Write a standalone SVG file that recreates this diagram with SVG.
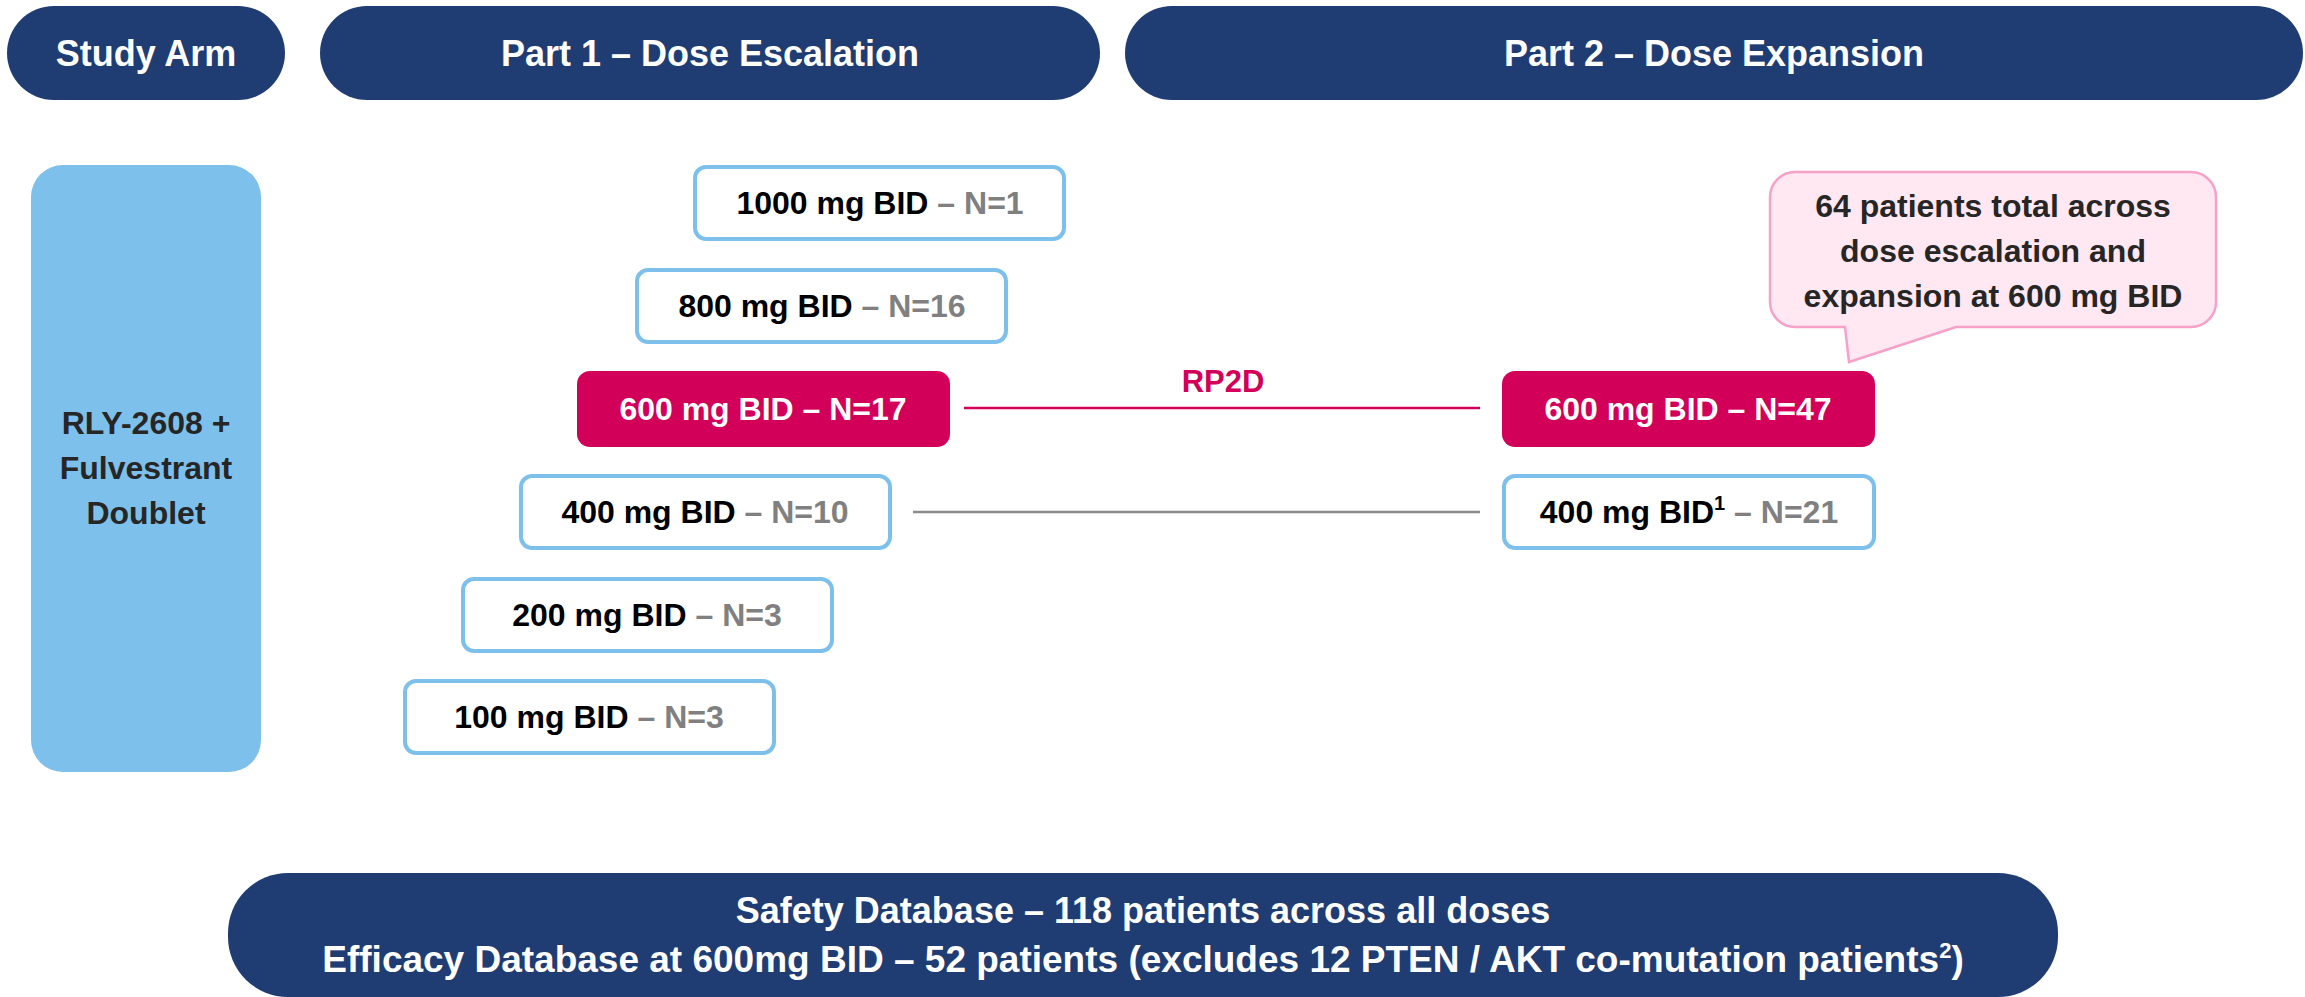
<svg xmlns="http://www.w3.org/2000/svg" width="2305" height="997" viewBox="0 0 2305 997">
<style>
text{font-family:"Liberation Sans",Arial,sans-serif;font-weight:bold;text-anchor:middle}
.hdr{fill:#1F3C73}
.ht{fill:#fff;font-size:36px}
.ht2{fill:#fff;font-size:37px}
.box{fill:#fff;stroke:#7DC0EB;stroke-width:4}
.hot{fill:#D20059}
.bt{font-size:32px;fill:#000}
.g{fill:#808080}
.w{fill:#fff}
.ct{font-size:32px;fill:#262626}
</style>
<rect width="2305" height="997" fill="#fff"/>
<g id="hdr-study-arm"><rect class="hdr" x="7" y="6" width="278" height="94" rx="47"/><text class="ht" x="146" y="66">Study Arm</text></g>
<g id="hdr-part1"><rect class="hdr" x="320" y="6" width="780" height="94" rx="47"/><text class="ht" x="710" y="66">Part 1 – Dose Escalation</text></g>
<g id="hdr-part2"><rect class="hdr" x="1125" y="6" width="1178" height="94" rx="47"/><text class="ht" x="1714" y="66">Part 2 – Dose Expansion</text></g>
<g id="arm"><rect x="31" y="165" width="230" height="607" rx="32" fill="#7DC0EB"/>
<text class="ct" x="146" y="434">RLY-2608 +</text><text class="ct" x="146" y="479">Fulvestrant</text><text class="ct" x="146" y="524">Doublet</text></g>
<g id="connectors">
<line x1="964" y1="408" x2="1480" y2="408" stroke="#D20059" stroke-width="2.5"/>
<line x1="913" y1="512" x2="1480" y2="512" stroke="#8C8C8C" stroke-width="2.5"/>
<text x="1223" y="392" font-size="31" fill="#D20059">RP2D</text>
</g>
<g id="d1000"><rect class="box" x="695" y="167" width="369" height="72" rx="11"/><text class="bt" x="880" y="214">1000 mg BID<tspan class="g"> – N=1</tspan></text></g>
<g id="d800"><rect class="box" x="637" y="270" width="369" height="72" rx="11"/><text class="bt" x="822" y="317">800 mg BID<tspan class="g"> – N=16</tspan></text></g>
<g id="d600"><rect class="hot" x="577" y="371" width="373" height="76" rx="13"/><text class="bt w" x="763" y="420">600 mg BID – N=17</text></g>
<g id="d400"><rect class="box" x="521" y="476" width="369" height="72" rx="11"/><text class="bt" x="705" y="523">400 mg BID<tspan class="g"> – N=10</tspan></text></g>
<g id="d200"><rect class="box" x="463" y="579" width="369" height="72" rx="11"/><text class="bt" x="647" y="626">200 mg BID<tspan class="g"> – N=3</tspan></text></g>
<g id="d100"><rect class="box" x="405" y="681" width="369" height="72" rx="11"/><text class="bt" x="589" y="728">100 mg BID<tspan class="g"> – N=3</tspan></text></g>
<g id="e600"><rect class="hot" x="1502" y="371" width="373" height="76" rx="13"/><text class="bt w" x="1688" y="420">600 mg BID – N=47</text></g>
<g id="e400"><rect class="box" x="1504" y="476" width="370" height="72" rx="11"/><text class="bt" x="1689" y="523">400 mg BID<tspan font-size="20" dy="-13">1</tspan><tspan class="g" dy="13"> – N=21</tspan></text></g>
<g id="callout"><path d="M1795,172 H2191 A25,25 0 0 1 2216,197 V302 A25,25 0 0 1 2191,327 H1956 L1849,362 L1845,327 H1795 A25,25 0 0 1 1770,302 V197 A25,25 0 0 1 1795,172 Z" fill="#FFE8F2" stroke="#F7A1C8" stroke-width="2.5"/>
<text class="ct" x="1993" y="217">64 patients total across</text><text class="ct" x="1993" y="262">dose escalation and</text><text class="ct" x="1993" y="307">expansion at 600 mg BID</text></g>
<g id="database"><rect class="hdr" x="228" y="873" width="1830" height="124" rx="60"/>
<text class="ht" x="1143" y="923">Safety Database – 118 patients across all doses</text>
<text class="ht2" x="1143" y="972">Efficacy Database at 600mg BID – 52 patients (excludes 12 PTEN / AKT co-mutation patients<tspan font-size="22" dy="-14">2</tspan><tspan dy="14">)</tspan></text></g>
</svg>
